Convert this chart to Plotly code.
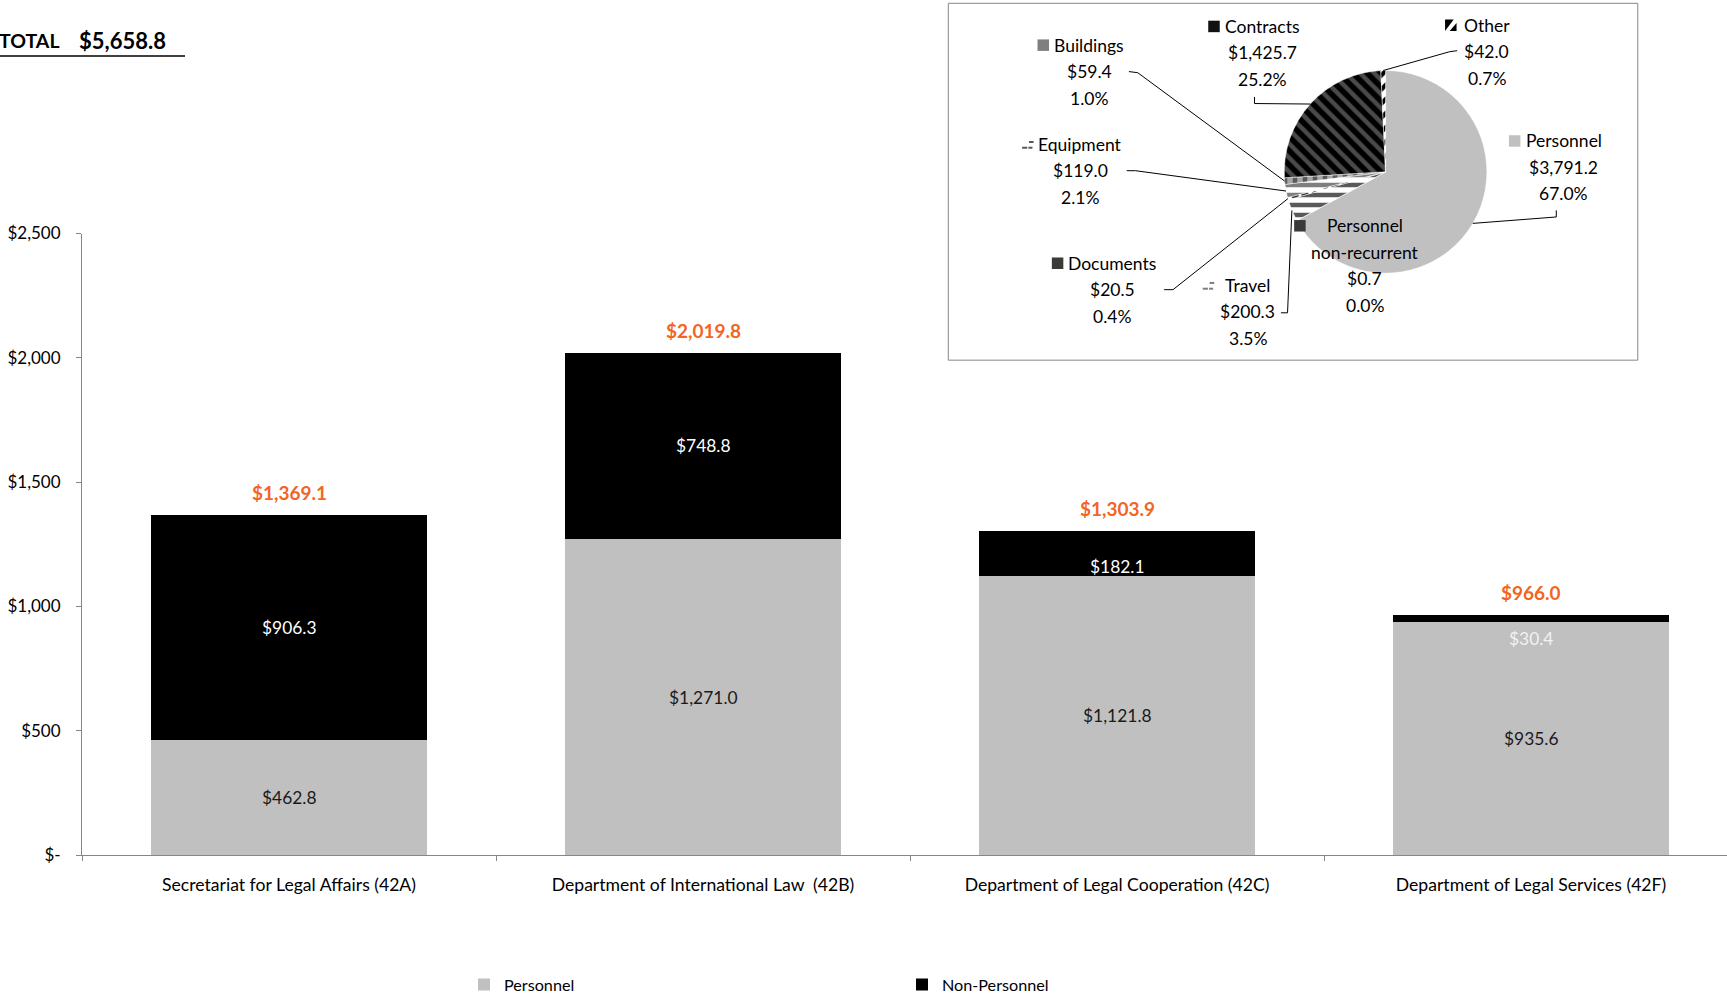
import math
import plotly.graph_objects as go

# ---------------- data ----------------
categories = ["Secretariat for Legal Affairs (42A)",
              "Department of International Law  (42B)",
              "Department of Legal Cooperation (42C)",
              "Department of Legal Services (42F)"]
personnel = [462.8, 1271.0, 1121.8, 935.6]
non_personnel = [906.3, 748.8, 182.1, 30.4]
y_tickvals = [0, 500, 1000, 1500, 2000, 2500]
y_ticktext = ["$-", "$500", "$1,000", "$1,500", "$2,000", "$2,500"]

pie_labels = ["Personnel", "Personnel non-recurrent", "Travel", "Documents",
              "Equipment", "Buildings", "Contracts", "Other"]
pie_values = [3791.2, 0.7, 200.3, 20.5, 119.0, 59.4, 1425.7, 42.0]

# ---------------- layout helpers ----------------
S = 1727 / 1568.0          # reference-shown -> full px
L, W, H = 82, 1645, 855    # paper: left margin, width, height (top margin 0)


def px(x):
    return (x - L) / W


def py(y):
    return (H - y) / H


FONT = "Lato, 'Open Sans', sans-serif"
GRAY_AX = "#868686"
ORANGE = "#F26522"

fig = go.Figure()
fig.add_trace(go.Bar(x=categories, y=personnel, name="Personnel",
                     marker=dict(color="#C0C0C0", line=dict(width=0))))
fig.add_trace(go.Bar(x=categories, y=non_personnel, name="Non-Personnel",
                     marker=dict(color="#000000", line=dict(width=0))))

annotations = []
shapes = []

# bar segment labels
np_shift = [0, 0, -13, -20]
np_color = ["#FFFFFF", "#FFFFFF", "#FFFFFF", "#F2F2F2"]
for i, c in enumerate(categories):
    p, n = personnel[i], non_personnel[i]
    annotations.append(dict(x=c, y=p / 2, xref="x", yref="y", text=f"${p:,.1f}",
                            xanchor="center", yanchor="middle", showarrow=False,
                            font=dict(family=FONT, size=17.4, color="#1a1a1a")))
    annotations.append(dict(x=c, y=p + n / 2, xref="x", yref="y", text=f"${n:,.1f}",
                            xanchor="center", yanchor="middle", showarrow=False,
                            yshift=np_shift[i],
                            font=dict(family=FONT, size=17.4, color=np_color[i])))
    annotations.append(dict(x=c, y=p + n, xref="x", yref="y", text=f"<b>${p + n:,.1f}</b>",
                            xanchor="center", yanchor="middle", showarrow=False, yshift=22,
                            font=dict(family=FONT, size=19, color=ORANGE)))

# grand total
total = sum(personnel) + sum(non_personnel)
annotations.append(dict(x=px(-3), y=py(40), xref="paper", yref="paper", xanchor="left",
                        yanchor="middle", text="<b>TOTAL</b>", showarrow=False,
                        font=dict(family=FONT, size=19.5, color="#000")))
annotations.append(dict(x=px(77), y=py(40), xref="paper", yref="paper", xanchor="left",
                        yanchor="middle", text=f"<b>${total:,.1f}</b>", showarrow=False,
                        font=dict(family=FONT, size=22, color="#000")))
shapes.append(dict(type="line", xref="paper", yref="paper", x0=px(0), x1=px(185),
                   y0=py(56), y1=py(56), line=dict(color="#000", width=1.5)))

# ---------------- pie inset ----------------
cx, cy, r = 1258 * S, 156 * S, 92 * S
shapes.append(dict(type="rect", xref="paper", yref="paper",
                   x0=px(861 * S), x1=px(1487 * S), y0=py(327 * S), y1=py(3 * S),
                   line=dict(color=GRAY_AX, width=1), fillcolor="white", layer="below"))

pie_bg = ["#C0C0C0", "#404040", "#FFFFFF", "#FFFFFF", "#FFFFFF", "#A6A6A6", "#000000", "#FFFFFF"]
pie_fg = ["#C0C0C0", "#404040", "#595959", "#262626", "#7F7F7F", "#595959", "#4a4a4a", "#000000"]
pie_shape = ["", "", "-", ".", "-", "|", "\\", "/"]
fig.add_trace(go.Pie(labels=pie_labels, values=pie_values, sort=False, direction="clockwise",
                     rotation=0, textinfo="none", textposition="none", showlegend=False,
                     domain=dict(x=[px(cx - r), px(cx + r)], y=[py(cy + r), py(cy - r)]),
                     marker=dict(colors=pie_bg, line=dict(color="white", width=0.5),
                                 pattern=dict(shape=pie_shape, fgcolor=pie_fg, bgcolor=pie_bg,
                                              size=10, solidity=0.45, fillmode="replace")),
                     hoverinfo="label+value+percent"))

# label placement (reference px), key square style
pie_layout = {
    "Personnel": dict(cx=1420, y0=128, kx=1370, key="solid", kc="#C0C0C0",
                      anchor=[(1413, 191), (1413, 197)]),
    "Personnel non-recurrent": dict(cx=1239, y0=205, kx=1175, key="solid", kc="#3a3a3a",
                                    anchor=None),
    "Travel": dict(cx=1133, y0=259, kx=1092, key="dash", kc="#7F7F7F",
                   anchor=[(1163, 284), (1169, 284)]),
    "Documents": dict(cx=1010, y0=239, kx=955, key="solid", kc="#3a3a3a",
                      anchor=[(1057, 263), (1065, 263)]),
    "Equipment": dict(cx=981, y0=131, kx=928, key="dash", kc="#595959",
                      anchor=[(1023, 155), (1031, 155)]),
    "Buildings": dict(cx=989, y0=41, kx=942, key="solid", kc="#7F7F7F",
                      anchor=[(1025, 65), (1033, 66)]),
    "Contracts": dict(cx=1146, y0=24, kx=1097, key="solid", kc="#111111",
                      anchor=[(1139, 88), (1139, 94)]),
    "Other": dict(cx=1350, y0=23, kx=1312, key="diag", kc="#000000",
                  anchor=[(1323, 46), (1316, 47)]),
}
name_lines = {"Personnel non-recurrent": ["Personnel", "non-recurrent"]}
KS = 11.5  # key square size (full px)
tot_pie = sum(pie_values)
cum = 0.0
for lab, v in zip(pie_labels, pie_values):
    mid = (cum + v / 2) / tot_pie
    cum += v
    th = 2 * math.pi * mid
    ex, ey = cx + r * math.sin(th), cy - r * math.cos(th)
    lay = pie_layout[lab]
    lines = name_lines.get(lab, [lab]) + [f"${v:,.1f}", f"{100 * v / tot_pie:.1f}%"]
    for k, t in enumerate(lines):
        annotations.append(dict(x=px(lay["cx"] * S), y=py((lay["y0"] + k * 24) * S),
                                xref="paper", yref="paper", text=t, showarrow=False,
                                xanchor="center", yanchor="middle",
                                font=dict(family=FONT, size=17.5, color="#000")))
    # key square
    kx0, kyc = lay["kx"] * S, lay["y0"] * S
    ky0, ky1 = kyc - KS / 2, kyc + KS / 2
    if lay["key"] == "solid":
        shapes.append(dict(type="rect", xref="paper", yref="paper", x0=px(kx0), x1=px(kx0 + KS),
                           y0=py(ky1), y1=py(ky0), fillcolor=lay["kc"], line=dict(width=0)))
    elif lay["key"] == "dash":
        for (a, b, yy) in [(0.0, 0.45, ky0 + KS * 0.8), (0.6, 1.0, ky0 + KS * 0.3),
                           (0.55, 0.9, ky0 + KS * 0.8)]:
            shapes.append(dict(type="line", xref="paper", yref="paper",
                               x0=px(kx0 + a * KS), x1=px(kx0 + b * KS), y0=py(yy), y1=py(yy),
                               line=dict(color=lay["kc"], width=2)))
    else:
        p1 = f"M {px(kx0):.5f},{py(ky0):.5f} L {px(kx0 + KS * 0.75):.5f},{py(ky0):.5f} " \
             f"L {px(kx0):.5f},{py(ky1):.5f} Z"
        p2 = f"M {px(kx0 + KS):.5f},{py(ky0 + KS * 0.3):.5f} L {px(kx0 + KS):.5f},{py(ky1):.5f} " \
             f"L {px(kx0 + KS * 0.4):.5f},{py(ky1):.5f} Z"
        for pth in (p1, p2):
            shapes.append(dict(type="path", xref="paper", yref="paper", path=pth,
                               fillcolor=lay["kc"], line=dict(width=0)))
    # leader line
    if lay["anchor"]:
        pts = [(a * S, b * S) for a, b in lay["anchor"]] + [(ex, ey)]
        path = "M " + " L ".join(f"{px(a):.5f},{py(b):.5f}" for a, b in pts)
        shapes.append(dict(type="path", xref="paper", yref="paper", path=path,
                           line=dict(color="#000", width=1)))

fig.update_layout(
    width=1727, height=996,
    margin=dict(l=L, r=0, t=0, b=996 - H, pad=0, autoexpand=False),
    paper_bgcolor="white", plot_bgcolor="white",
    barmode="stack", bargap=0.333,
    font=dict(family=FONT, size=16, color="#000"),
    xaxis=dict(range=[-0.5, -0.5 + W / (414.0)], tickson="boundaries", ticks="outside",
               ticklen=5, tickcolor=GRAY_AX, showline=True, linecolor=GRAY_AX, linewidth=1,
               showgrid=False, zeroline=False, ticklabelstandoff=14,
               tickfont=dict(family=FONT, size=17.6, color="#000")),
    yaxis=dict(domain=[0, py(233.5)], range=[0, 2500], tickvals=y_tickvals, ticktext=y_ticktext,
               ticks="outside", ticklen=5, tickcolor=GRAY_AX, showline=True, linecolor=GRAY_AX,
               linewidth=1, showgrid=False, zeroline=False, ticklabelstandoff=12,
               tickfont=dict(family=FONT, size=17, color="#000")),
    legend=dict(orientation="h", x=px(464), y=py(985), xanchor="left", yanchor="middle",
                traceorder="normal", entrywidth=393, entrywidthmode="pixels",
                font=dict(family=FONT, size=16.2, color="#000"), bgcolor="rgba(0,0,0,0)"),
    annotations=annotations, shapes=shapes,
)

fig.write_html("out.html")
